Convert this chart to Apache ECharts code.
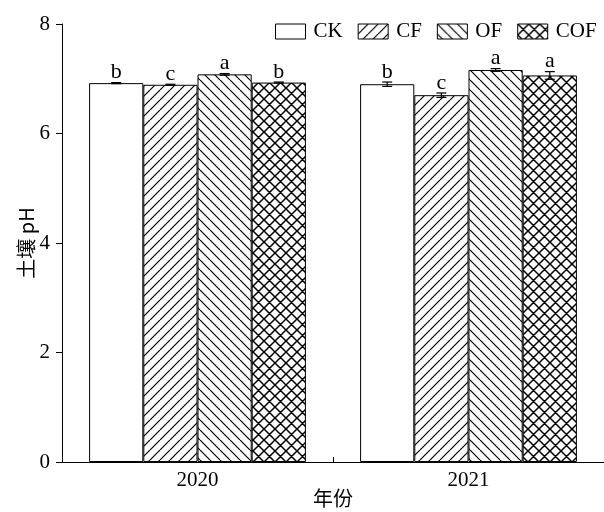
<!DOCTYPE html>
<html><head><meta charset="utf-8">
<script src="https://cdn.jsdelivr.net/npm/echarts@6/dist/echarts.min.js"></script>
<style>html,body{margin:0;padding:0;background:#fff}#c{width:604px;height:512px}</style>
</head><body><div id="c"></div>
<script>
const years = ['2020', '2021'];
const seriesNames = ['CK', 'CF', 'OF', 'COF'];
const ckVals = [6.92, 6.90];
const cfVals = [6.89, 6.70];
const ofVals = [7.08, 7.16];
const cofVals = [6.93, 7.06];
const ckErr = [0.01, 0.04];
const cfErr = [0.01, 0.04];
const ofErr = [0.015, 0.025];
const cofErr = [0.01, 0.07];
const ckSig = ['b', 'b'];
const cfSig = ['c', 'c'];
const ofSig = ['a', 'a'];
const cofSig = ['b', 'a'];
const yMin = 0, yMax = 8, yStep = 2;

const allVals = [ckVals, cfVals, ofVals, cofVals];
const allErr = [ckErr, cfErr, ofErr, cofErr];
const allSig = [ckSig, cfSig, ofSig, cofSig];
const patternTypes = ['none', 'fwd', 'back', 'cross'];

function makePattern(type) {
  if (type === 'none') return '#ffffff';
  const s = type === 'cross' ? 11 : 10;
  const c = document.createElement('canvas');
  c.width = s; c.height = s;
  const g = c.getContext('2d');
  g.fillStyle = '#fff'; g.fillRect(0, 0, s, s);
  g.strokeStyle = '#000'; g.lineWidth = type === 'cross' ? 1.5 : 1.2;
  g.beginPath();
  for (const k of [-s, 0, s]) {
    if (type === 'fwd' || type === 'cross') { g.moveTo(k, s); g.lineTo(k + s, 0); }
    if (type === 'back' || type === 'cross') { g.moveTo(k, 0); g.lineTo(k + s, s); }
  }
  g.stroke();
  return { image: c, repeat: 'repeat' };
}

const serif = 'Liberation Serif';
const cjk = 'Noto Sans CJK SC';
const barCatGap = 0.2;

const series = seriesNames.map((n, i) => ({
  name: n,
  type: 'bar',
  data: allVals[i],
  barGap: '0%',
  barCategoryGap: (barCatGap * 100) + '%',
  itemStyle: { color: makePattern(patternTypes[i]), borderColor: '#000', borderWidth: 1 },
  emphasis: { disabled: true },
  z: 2
}));

const errData = [];
seriesNames.forEach((n, i) => {
  years.forEach((y, j) => {
    errData.push([j, i, allVals[i][j], allErr[i][j], allSig[i][j]]);
  });
});

series.push({
  type: 'custom',
  z: 5,
  data: errData,
  encode: { x: 0, y: 2 },
  renderItem: function (params, api) {
    const j = api.value(0), i = api.value(1), v = api.value(2), e = api.value(3);
    const letter = errData[params.dataIndex][4];
    const band = api.size([1, 0])[0];
    const bw = band * (1 - barCatGap) / 4;
    const cx = api.coord([j, 0])[0] + (i - 1.5) * bw;
    const yT = api.coord([j, v + e])[1];
    const yB = api.coord([j, v - e])[1];
    const hw = 5;
    const st = { stroke: '#000', lineWidth: 1.2 };
    return {
      type: 'group',
      children: [
        { type: 'line', shape: { x1: cx, y1: yT, x2: cx, y2: yB }, style: st },
        { type: 'line', shape: { x1: cx - hw, y1: yT, x2: cx + hw, y2: yT }, style: st },
        { type: 'line', shape: { x1: cx - hw, y1: yB, x2: cx + hw, y2: yB }, style: st },
        { type: 'text', x: cx, y: yT + 1, style: { text: letter, fill: '#000', font: '22px "Liberation Serif"', textAlign: 'center', textVerticalAlign: 'bottom' } }
      ]
    };
  }
});

const chart = echarts.init(document.getElementById('c'), null, { renderer: 'canvas' });
chart.setOption({
  animation: false,
  backgroundColor: '#fff',
  grid: { left: 62, right: 0, top: 24, bottom: 50, outerBoundsMode: 'none', containLabel: false },
  legend: {
    data: seriesNames,
    left: 270, top: 16,
    itemWidth: 30, itemHeight: 15, itemGap: 15,
    icon: 'rect',
    itemStyle: { borderWidth: 1, borderColor: '#000' },
    textStyle: { fontFamily: serif, fontSize: 21, color: '#000', padding: [0, 0, 0, 3] },
    selectedMode: false
  },
  xAxis: {
    type: 'category',
    data: years,
    axisLine: { lineStyle: { color: '#000', width: 1 } },
    axisTick: { show: true, inside: true, length: 5, lineStyle: { color: '#000' } },
    axisLabel: { fontFamily: serif, fontSize: 21, color: '#000', margin: 8 },
    name: '年份', nameLocation: 'middle', nameGap: 26, nameMoveOverlap: false,
    nameTextStyle: { fontFamily: cjk, fontSize: 20, color: '#000' }
  },
  yAxis: {
    type: 'value', min: yMin, max: yMax, interval: yStep,
    axisLine: { show: true, lineStyle: { color: '#000', width: 1 } },
    axisTick: { show: true, length: 6, lineStyle: { color: '#000' } },
    splitLine: { show: false },
    axisLabel: { fontFamily: serif, fontSize: 21, color: '#000', margin: 12 },
    name: '土壤 pH', nameLocation: 'middle', nameGap: 26, nameRotate: 90, nameMoveOverlap: false,
    nameTextStyle: { fontFamily: cjk, fontSize: 20, color: '#000' }
  },
  series: series
});
</script>
</body></html>
